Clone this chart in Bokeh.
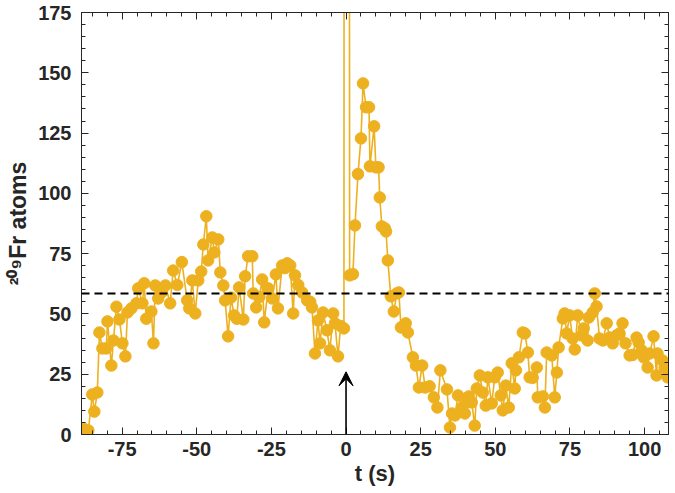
from bokeh.plotting import figure
from bokeh.models import (Range1d, LinearAxis, Span, Arrow, VeeHead,
                          FixedTicker, ColumnDataSource, CustomJSTickFormatter)
from bokeh.embed import file_html
from bokeh.resources import INLINE

# ---- data ----
t_before = [-88.0, -87.0, -86.3, -85.0, -84.3, -83.3, -82.6, -81.6, -80.3, -79.9,
            -78.6, -77.9, -76.9, -75.9, -74.9, -73.9, -73.2, -71.9, -70.2, -69.6,
            -68.2, -67.6, -66.9, -65.2, -64.5, -63.9, -62.9, -61.7, -60.5, -58.9,
            -57.9, -56.5, -55.0, -53.2, -52.5, -51.5, -50.5, -49.5, -48.5, -47.8,
            -46.8, -46.2, -44.8, -44.1, -42.8, -42.1, -41.1, -40.5, -39.5, -38.5,
            -37.5, -36.6, -35.8, -34.4, -33.8, -32.8, -31.4, -31.1, -30.1, -29.0,
            -28.1, -27.4, -26.1, -24.7, -23.5, -22.8, -21.4, -20.5, -19.7, -18.7,
            -17.7, -17.1, -16.0, -14.7, -13.0, -12.0, -11.4, -10.4, -9.4, -8.7,
            -7.7, -6.4, -5.4, -4.3, -3.7, -2.7, -1.8, -0.7]
v_before = [2.5, 1.0, 1.7, 16.6, 9.5, 17.4, 42.3, 35.7, 35.7, 46.9,
            28.6, 39.0, 53.0, 47.7, 37.8, 32.4, 50.6, 52.3, 54.4, 60.6,
            54.4, 62.7, 48.0, 51.0, 37.8, 61.8, 56.4, 59.0, 61.8, 54.4,
            68.0, 62.0, 71.5, 55.6, 52.3, 63.9, 50.2, 63.9, 67.6, 78.8,
            90.5, 72.2, 81.7, 75.5, 80.9, 67.2, 61.8, 55.6, 40.7, 56.8,
            49.4, 48.0, 61.0, 47.7, 65.6, 73.9, 73.9, 58.5, 52.7, 57.0,
            64.3, 46.5, 60.6, 56.4, 66.4, 52.3, 70.1, 69.0, 71.0, 70.1,
            50.2, 66.0, 62.0, 58.9, 55.6, 55.0, 52.7, 33.6, 47.3, 37.8,
            50.6, 43.2, 34.9, 50.2, 46.1, 32.4, 45.0, 44.0]

t_spike = [0.0]
v_spike = [3000.0]

t_after = [1.2, 2.3, 3.0, 4.0, 5.0, 5.7, 6.7, 7.7, 8.0, 9.4,
           10.0, 10.9, 11.3, 12.0, 13.0, 13.4, 14.0, 15.0, 16.0, 17.0,
           17.7, 18.4, 19.3, 20.0, 20.7, 22.4, 23.4, 24.4, 25.5, 26.5,
           28.0, 29.4, 30.6, 31.6, 33.8, 34.8, 35.5, 36.5, 37.5, 38.8,
           39.8, 40.5, 41.1, 42.1, 43.1, 43.8, 44.8, 45.8, 46.8, 47.5,
           48.8, 49.8, 50.8, 51.8, 52.5, 53.5, 54.5, 55.5, 56.5, 56.9,
           57.9, 59.2, 59.9, 60.9, 61.5, 62.5, 63.9, 64.2, 65.9, 66.6,
           67.2, 68.9, 69.9, 70.6, 71.2, 72.6, 73.2, 73.9, 74.9, 75.9,
           76.6, 77.6, 78.9, 79.6, 80.9, 81.3, 82.6, 83.3, 83.9, 84.9,
           86.0, 87.3, 88.3, 89.3, 90.6, 91.6, 92.6, 93.6, 95.0, 96.0,
           97.3, 98.0, 99.0, 99.7, 101.0, 101.7, 103.0, 104.0, 104.3, 106.0,
           106.7, 107.7]
v_after = [66.0, 66.5, 86.7, 108.0, 122.8, 145.6, 135.7, 135.7, 111.2, 127.8,
           110.8, 110.8, 98.3, 86.3, 85.5, 84.2, 72.2, 57.3, 51.0, 58.5,
           58.9, 44.4, 45.0, 46.1, 42.3, 32.0, 28.6, 19.5, 28.6, 19.5,
           20.0, 15.4, 11.2, 26.6, 18.7, 2.9, 8.7, 7.9, 16.2, 11.2,
           8.7, 13.3, 15.8, 13.3, 3.7, 19.1, 24.5, 17.4, 12.0, 23.7,
           12.9, 23.7, 25.7, 16.2, 10.0, 20.3, 11.2, 29.5, 19.1, 26.6,
           32.0, 42.3, 41.9, 34.0, 23.7, 23.5, 27.8, 15.4, 15.8, 11.2,
           34.0, 32.8, 15.4, 25.7, 36.1, 48.1, 50.2, 41.9, 49.4, 39.8,
           35.3, 49.4, 41.1, 44.0, 39.0, 48.5, 50.6, 58.5, 53.1, 39.8,
           39.0, 46.1, 40.2, 37.8, 41.1, 41.9, 46.1, 37.8, 32.8, 33.0,
           40.2, 38.2, 34.9, 32.0, 27.8, 33.6, 40.7, 24.5, 33.6, 30.7,
           27.8, 23.7]

threshold = 58.5
arrow_top = 26.0
x_ticks = [-75, -50, -25, 0, 25, 50, 75, 100]
y_ticks = [0, 25, 50, 75, 100, 125, 150, 175]

t_all = t_before + t_spike + t_after
v_all = v_before + v_spike + v_after

# ---- styling ----
GOLD = "#EDB120"
DARK = "#262626"
FONT = "Liberation Sans"

p = figure(width=675, height=493, output_backend="svg", toolbar_location=None,
           x_range=Range1d(-88.6, 108.0), y_range=Range1d(0, 175),
           min_border_left=81, min_border_right=7, min_border_top=12,
           min_border_bottom=59)
p.background_fill_color = "white"
p.border_fill_color = "white"
p.outline_line_color = DARK
p.outline_line_width = 1
p.grid.visible = False

src = ColumnDataSource(dict(t=t_all, v=v_all))
p.line("t", "v", source=src, color=GOLD, line_width=1.6)
p.scatter("t", "v", source=src, size=11.5, color=GOLD, line_color=GOLD)

p.add_layout(Span(location=threshold, dimension="width", line_color="black",
                  line_dash="8 5", line_width=2))
p.add_layout(Arrow(end=VeeHead(size=14, fill_color="black", line_color="black"),
                   x_start=0, y_start=0, x_end=0, y_end=arrow_top,
                   line_color="black", line_width=1.6))


def style(ax, ticks):
    ax.ticker = FixedTicker(ticks=ticks, minor_ticks=list(range(-100, 180, 5)))
    ax.major_tick_in = 7
    ax.major_tick_out = 0
    ax.minor_tick_in = 4
    ax.minor_tick_out = 0
    ax.axis_line_color = DARK
    ax.major_tick_line_color = DARK
    ax.minor_tick_line_color = DARK
    ax.major_label_text_font = FONT
    ax.major_label_text_font_style = "bold"
    ax.major_label_text_color = DARK
    ax.major_label_text_font_size = "20px"
    ax.axis_label_text_font = FONT
    ax.axis_label_text_font_style = "bold"
    ax.axis_label_text_color = DARK
    ax.axis_label_text_font_size = "22px"


plain = "return tick.toString();"
xa = p.xaxis[0]
ya = p.yaxis[0]
style(xa, x_ticks)
style(ya, y_ticks)
xa.formatter = CustomJSTickFormatter(code=plain)
ya.formatter = CustomJSTickFormatter(code=plain)
xa.axis_label = "t (s)"
xa.major_label_standoff = 7
xa.axis_label_standoff = 2
ya.axis_label = "²⁰⁹Fr atoms"
ya.axis_label_text_font_size = "23px"
ya.major_label_standoff = 10
ya.axis_label_standoff = 4

top = LinearAxis(formatter=CustomJSTickFormatter(code="return ''"))
right = LinearAxis(formatter=CustomJSTickFormatter(code="return ''"))
style(top, x_ticks)
style(right, y_ticks)
top.major_label_standoff = 0
right.major_label_standoff = 0
p.add_layout(top, "above")
p.add_layout(right, "right")

open("out.html", "w").write(file_html(p, INLINE))
